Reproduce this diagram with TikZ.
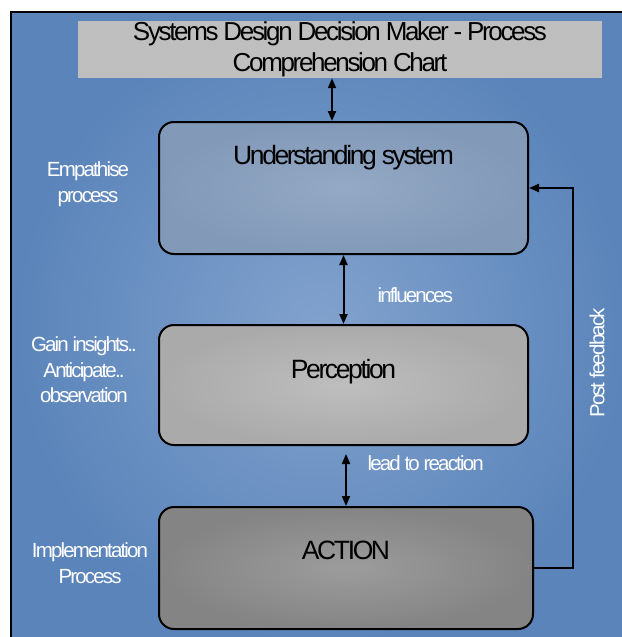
\documentclass[tikz,border=0pt]{standalone}
\usepackage{fontspec}
\setmainfont{Liberation Sans}[LetterSpace=-9]
\usetikzlibrary{arrows.meta,calc,positioning}
\definecolor{bgedge}{HTML}{5A84BA}
\definecolor{bgmid}{HTML}{82A2CD}
\definecolor{titlegray}{HTML}{BFBFBF}
\definecolor{undin}{HTML}{93A9C5}
\definecolor{undout}{HTML}{8299B8}
\definecolor{perin}{HTML}{BEBEBE}
\definecolor{perout}{HTML}{AAAAAA}
\definecolor{actin}{HTML}{9C9C9C}
\definecolor{actout}{HTML}{848484}

\begin{document}
\begin{tikzpicture}[x=1pt,y=-1pt,
    every node/.style={font=\fontsize{20.5}{25.5}\selectfont},
    stage/.style={draw,line width=2pt,rounded corners=15pt,shading=radial,
      inner sep=0pt,anchor=north west,font=\fontsize{26.5}{30}\selectfont},
    side/.style={text=white,align=center},
    twoway/.style={{Triangle[length=10pt,width=8pt]}-{Triangle[length=10pt,width=8pt]},line width=2pt},
    oneway/.style={-{Triangle[length=10pt,width=8pt]},line width=2pt}]
  \useasboundingbox (0,0) rectangle (621,637);
  \fill[white] (0,0) rectangle (621,637);
  \draw[line width=2pt,inner color=bgmid,outer color=bgedge] (11,12) rectangle (632,648);

  % title bar
  \node[fill=titlegray,minimum width=524pt,minimum height=57pt,inner sep=0pt,
    align=center,font=\fontsize{26}{31}\selectfont] (title) at (340,49.5)
    {Systems Design Decision Maker - Process\\Comprehension Chart};

  % the three stages
  \node[stage,inner color=undin,outer color=undout,minimum width=369pt,
    text height=42pt,text depth=90pt] (und) at (158,121) {Understanding system};
  \node[stage,inner color=perin,outer color=perout,minimum width=369pt,
    text height=53pt,text depth=67pt] (per) at (158,324) {Perception};
  \node[stage,inner color=actin,outer color=actout,minimum width=374pt,
    text height=52pt,text depth=70pt] (act) at (158,506) {ACTION};

  \coordinate (tt) at ($(title.south)+(-8,0)$);
  \coordinate (lt) at ($(act.north |- per.south)+(0,8)$);
  \draw[twoway] (tt) -- (tt |- und.north);
  \draw[twoway] (und.south) -- (per.north);
  \draw[twoway] (lt) -- (act.north);
  \draw[oneway] (act.east) -- ++(39,0) |- (und.east);

  \node[side,anchor=west] (infl) at (374,295) {influences};
  \node[side,anchor=west] (lead) at (364,463) {lead to reaction};
  \node[side,rotate=90] (post) at (597,363) {Post feedback};

  % notes on the left
  \node[side] (emp) at (88,184) {Empathise\\process};
  \node[side] (gain) at (84,370) {Gain insights..\\Anticipate..\\observation};
  \node[side] (impl) at (90,563) {Implementation\\Process};
\end{tikzpicture}
\end{document}
